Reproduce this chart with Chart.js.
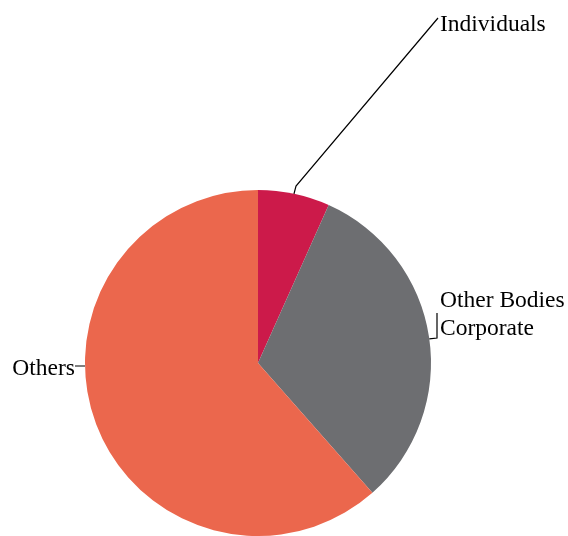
<!DOCTYPE html>
<html>
<head>
<meta charset="utf-8">
<script src="https://cdn.jsdelivr.net/npm/chart.js@4.4.1/dist/chart.umd.min.js"></script>
<style>
  html, body { margin: 0; padding: 0; background: #fff; }
  #wrap { width: 568px; height: 536px; position: relative; }
</style>
</head>
<body>
<div id="wrap"><canvas id="pie"></canvas></div>
<script>
const categories = ['Individuals', 'Other Bodies Corporate', 'Others'];
const shares = [6.7, 31.8, 61.5];
const colors = ['#CC1A4A', '#6D6E71', '#EB674D'];

// label placement: lines of text, text anchor, leader bend points
const labelSpots = [
  { lines: ['Individuals'], x: 440, y: 31, align: 'left', edge: 12, path: [[296, 186], [438, 18]] },
  { lines: ['Other Bodies', 'Corporate'], x: 440, y: 307, align: 'left', edge: 82, path: [[437, 338], [437, 313]] },
  { lines: ['Others'], x: 75, y: 375, align: 'right', edge: 269, path: [[75, 366]] }
];

const leaderLabels = {
  id: 'leaderLabels',
  afterDatasetsDraw(chart) {
    const ctx = chart.ctx;
    const arc = chart.getDatasetMeta(0).data[0];
    const { x: cx, y: cy, outerRadius: r } = arc.getProps(['x', 'y', 'outerRadius'], true);
    ctx.save();
    ctx.strokeStyle = '#000';
    ctx.lineWidth = 1.2;
    ctx.fillStyle = '#000';
    ctx.font = '23.5px "Liberation Serif", "Times New Roman", serif';
    labelSpots.forEach(s => {
      const a = s.edge * Math.PI / 180;
      ctx.beginPath();
      ctx.moveTo(cx + r * Math.sin(a), cy - r * Math.cos(a));
      s.path.forEach(p => ctx.lineTo(p[0], p[1]));
      ctx.stroke();
      ctx.textAlign = s.align;
      ctx.textBaseline = 'alphabetic';
      s.lines.forEach((t, j) => ctx.fillText(t, s.x, s.y + j * 28));
    });
    ctx.restore();
  }
};

new Chart(document.getElementById('pie').getContext('2d'), {
  type: 'pie',
  data: {
    labels: categories,
    datasets: [{
      data: shares,
      backgroundColor: colors,
      borderWidth: 0
    }]
  },
  options: {
    responsive: true,
    maintainAspectRatio: false,
    animation: false,
    layout: { padding: { top: 190, bottom: 0, left: 85, right: 137 } },
    plugins: {
      legend: { display: false },
      tooltip: { enabled: false }
    }
  },
  plugins: [leaderLabels]
});
</script>
</body>
</html>
